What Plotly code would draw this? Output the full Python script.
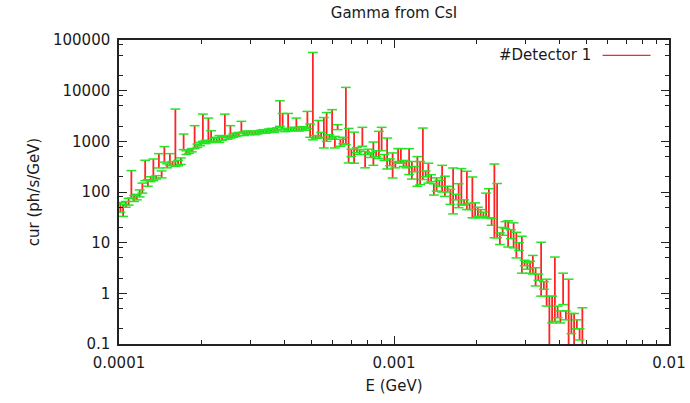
import plotly.graph_objects as go

# Bin energies (GeV)
E_GeV = [
    1.012e-4, 1.035e-4, 1.059e-4, 1.084e-4, 1.109e-4, 1.135e-4, 1.161e-4, 1.189e-4, 1.216e-4, 1.245e-4,
    1.2735e-4, 1.3032e-4, 1.3335e-4, 1.3646e-4, 1.3964e-4, 1.4289e-4, 1.4622e-4, 1.4962e-4, 1.5311e-4, 1.5668e-4,
    1.6032e-4, 1.6406e-4, 1.6788e-4, 1.7179e-4, 1.7579e-4, 1.7989e-4, 1.8408e-4, 1.8836e-4, 1.9275e-4, 1.9724e-4,
    2.0184e-4, 2.0654e-4, 2.1135e-4, 2.1627e-4, 2.2131e-4, 2.2646e-4, 2.3174e-4, 2.3714e-4, 2.4266e-4, 2.4831e-4,
    2.5410e-4, 2.6002e-4, 2.6607e-4, 2.7227e-4, 2.7861e-4, 2.8510e-4, 2.9174e-4, 2.9854e-4, 3.0549e-4, 3.1261e-4,
    3.1989e-4, 3.2734e-4, 3.3497e-4, 3.4277e-4, 3.5075e-4, 3.5892e-4, 3.6728e-4, 3.7584e-4, 3.8459e-4, 3.9355e-4,
    4.0272e-4, 4.1210e-4, 4.2169e-4, 4.3152e-4, 4.4157e-4, 4.5186e-4, 4.6238e-4, 4.7315e-4, 4.8417e-4, 4.9545e-4,
    5.0699e-4, 5.1880e-4, 5.3088e-4, 5.4325e-4, 5.5590e-4, 5.6885e-4, 5.8210e-4, 5.9566e-4, 6.0954e-4, 6.2374e-4,
    6.3826e-4, 6.5313e-4, 6.6834e-4, 6.8391e-4, 6.9984e-4, 7.1614e-4, 7.3282e-4, 7.4989e-4, 7.6736e-4, 7.8523e-4,
    8.0353e-4, 8.2224e-4, 8.4139e-4, 8.6099e-4, 8.8105e-4, 9.0157e-4, 9.2257e-4, 9.4406e-4, 9.6606e-4, 9.8856e-4,
    1.0116e-3, 1.0351e-3, 1.0593e-3, 1.0839e-3, 1.1092e-3, 1.1350e-3, 1.1615e-3, 1.1885e-3, 1.2162e-3, 1.2445e-3,
    1.2735e-3, 1.3032e-3, 1.3335e-3, 1.3646e-3, 1.3964e-3, 1.4289e-3, 1.4622e-3, 1.4962e-3, 1.5311e-3, 1.5668e-3,
    1.6032e-3, 1.6406e-3, 1.6788e-3, 1.7179e-3, 1.7579e-3, 1.7989e-3, 1.8408e-3, 1.8836e-3, 1.9275e-3, 1.9724e-3,
    2.0184e-3, 2.0654e-3, 2.1135e-3, 2.1627e-3, 2.2131e-3, 2.2646e-3, 2.3174e-3, 2.3714e-3, 2.4266e-3, 2.4831e-3,
    2.5410e-3, 2.6002e-3, 2.6607e-3, 2.7227e-3, 2.7861e-3, 2.8510e-3, 2.9174e-3, 2.9854e-3, 3.0549e-3, 3.1261e-3,
    3.1989e-3, 3.2734e-3, 3.3497e-3, 3.4277e-3, 3.5075e-3, 3.5892e-3, 3.6728e-3, 3.7584e-3, 3.8459e-3, 3.9355e-3,
    4.0272e-3, 4.1210e-3, 4.2169e-3, 4.3152e-3, 4.4157e-3, 4.5186e-3, 4.6238e-3, 4.7315e-3, 4.8417e-3,
]

# Lower and upper ends of each error bar (ph/s/GeV)
y_low = [
    40, 33, 50, 55, 76, 65, 70, 80, 95, 168,
    130, 160, 168, 180, 298, 190, 389, 300, 336, 330,
    321, 330, 350, 686, 550, 580, 620, 718, 760, 820,
    1000, 900, 950, 950, 1000, 1000, 950, 1050, 1200, 1100,
    1160, 1200, 1250, 1300, 1460, 1300, 1400, 1350, 1400, 1350,
    1400, 1450, 1500, 1450, 1500, 1550, 1500, 1600, 1977, 1700,
    1550, 1620, 1600, 1650, 1620, 1600, 1700, 1650, 1780, 1200,
    1070, 1150, 1160, 1200, 740, 1000, 1100, 1160, 740, 1700,
    800, 900, 860, 375, 500, 370, 600, 550, 800, 300,
    550, 480, 336, 500, 457, 656, 420, 285, 330, 189,
    300, 370, 370, 320, 300, 221, 180, 250, 130, 140,
    176, 200, 150, 160, 87, 104, 130, 100, 82, 100,
    57, 37, 70, 49, 57, 55, 45, 45, 31, 31,
    33, 31, 33, 31, 31, 22, 12.5, 12.5, 9.2, 14,
    19, 8.2, 12, 7.9, 5, 7, 2.5, 3.5, 3, 2.5,
    2.4, 1.4, 1.8, 0.88, 1.2, 0.56, 0.05, 0.26, 0.28, 0.33,
    0.26, 0.6, 0.3, 0.05, 0.16, 0.05, 0.2, 0.12, 0.05,
]
y_high = [
    62, 57, 65, 75, 265, 85, 90, 110, 150, 423,
    175, 200, 448, 210, 572, 260, 787, 360, 572, 400,
    4330, 420, 470, 1393, 650, 680, 720, 2040, 880, 950,
    3450, 1050, 2880, 1623, 1150, 1200, 1300, 1250, 3450, 1300,
    2040, 1400, 1450, 1500, 2480, 1550, 1600, 1550, 1600, 1550,
    1600, 1650, 1700, 1650, 1750, 1800, 1700, 1850, 6310, 3550,
    1800, 3550, 1800, 1900, 2880, 1850, 1950, 1900, 3900, 2200,
    56800, 1300, 2580, 1500, 2950, 3700, 1350, 4220, 1250, 2130,
    1100, 1200, 11600, 1800, 700, 1520, 750, 680, 1890, 630,
    700, 600, 968, 650, 1575, 1890, 550, 1160, 450, 590,
    400, 718, 718, 420, 400, 718, 400, 320, 500, 400,
    1830, 260, 370, 220, 145, 190, 170, 336, 205, 130,
    113, 298, 90, 146, 290, 70, 257, 60, 198, 61,
    50, 45, 40, 95, 116, 30, 357, 147, 15.6, 20,
    26, 27, 18, 24.6, 16, 10, 13.4, 4.5, 4, 4.3,
    5.6, 3.2, 2.4, 10.2, 1.7, 1.9, 0.88, 0.88, 5.2, 0.56,
    0.45, 2.5, 0.45, 1.9, 0.4, 0.4, 0.3, 0.2, 0.52,
]

series_name = "#Detector 1"
y_tick_vals = [0.1, 1, 10, 100, 1000, 10000, 100000]
y_tick_text = ["0.1", "1", "10", "100", "1000", "10000", "100000"]
x_tick_vals = [1e-4, 1e-3, 1e-2]
x_tick_text = ["0.0001", "0.001", "0.01"]

FONT = "DejaVu Sans"
TXT = "#1a1a1a"

# vertical bars as segments
seg_x, seg_y = [], []
for e, lo, hi in zip(E_GeV, y_low, y_high):
    seg_x += [e, e, None]
    seg_y += [lo, hi, None]

fig = go.Figure()
fig.add_trace(go.Scatter(x=seg_x, y=seg_y, mode="lines",
                         line=dict(color="#ff2424", width=1.8),
                         hoverinfo="skip", showlegend=False))
fig.add_trace(go.Scatter(x=E_GeV + E_GeV, y=y_low + y_high, mode="markers",
                         marker=dict(symbol="line-ew", size=7,
                                     line=dict(color="#22e622", width=1.5)),
                         showlegend=False))

x_minor = [m * 10.0 ** d for d in (-4, -3) for m in range(2, 10)]
y_minor = [m * 10.0 ** d for d in range(-1, 5) for m in (2, 5, 8)]

L, R, T, B = 119, 20.5, 39.5, 59
PW, PH = 690 - L - R, 403 - T - B

fig.update_layout(
    width=690, height=403,
    margin=dict(l=L, r=R, t=T, b=B, autoexpand=False),
    paper_bgcolor="white", plot_bgcolor="white",
    font=dict(family=FONT, size=15, color=TXT),
    showlegend=False,
    title=dict(text="Gamma from CsI", x=0.5, xref="paper", xanchor="center",
               y=1 - 13 / 403, yref="container", yanchor="middle",
               font=dict(family=FONT, size=15, color=TXT)),
)
axis_common = dict(
    type="log", showgrid=False, zeroline=False, automargin=False,
    showline=True, linecolor="#222222", linewidth=1.5, mirror="ticks",
    ticks="inside", ticklen=8, tickwidth=1, tickcolor="#222222",
    tickmode="array",
    tickfont=dict(family=FONT, size=15, color=TXT),
)
fig.update_xaxes(**axis_common, range=[-4, -2],
                 tickvals=x_tick_vals, ticktext=x_tick_text,
                 ticklabelstandoff=4,
                 minor=dict(ticks="inside", ticklen=4, tickcolor="#222222",
                            tickmode="array", tickvals=x_minor),
                 title=dict(text="E (GeV)", standoff=10,
                            font=dict(family=FONT, size=15, color=TXT)))
fig.update_yaxes(**axis_common, range=[-1, 5],
                 tickvals=y_tick_vals, ticktext=y_tick_text,
                 ticklabelstandoff=4,
                 minor=dict(ticks="inside", ticklen=4, tickcolor="#222222",
                            tickmode="array", tickvals=y_minor),
                 title=dict(text="cur (ph/s/GeV)", standoff=10,
                            font=dict(family=FONT, size=15, color=TXT)))

# gnuplot-style key: text on the left, line sample on the right
fig.add_annotation(text=series_name, xref="paper", yref="paper",
                   x=(593 - L) / PW, y=(403 - B - 55) / PH,
                   xanchor="right", yanchor="middle", showarrow=False,
                   font=dict(family=FONT, size=15, color=TXT))
fig.add_shape(type="line", xref="paper", yref="paper",
              x0=(603 - L) / PW, x1=(651 - L) / PW,
              y0=(403 - B - 55) / PH, y1=(403 - B - 55) / PH,
              line=dict(color="#ff2424", width=1.3))

fig.write_html("out.html")
